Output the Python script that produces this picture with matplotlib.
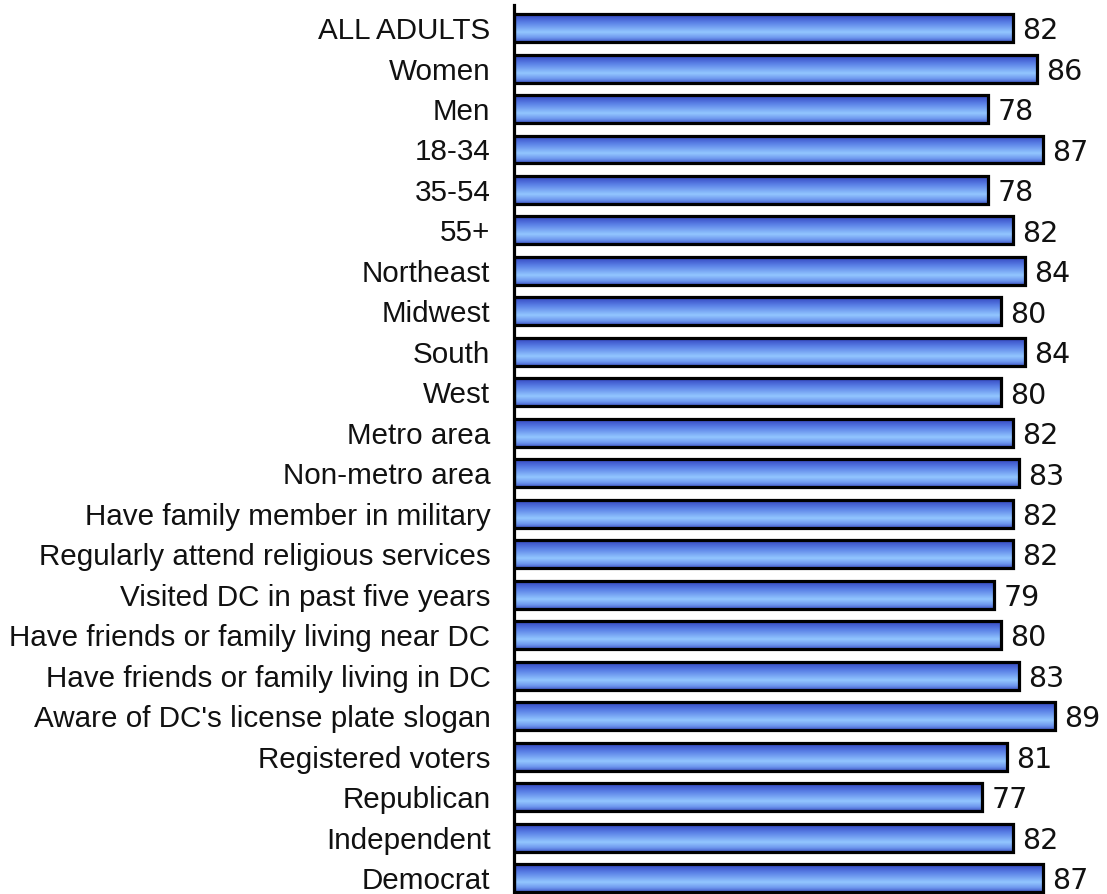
import matplotlib.pyplot as plt
import numpy as np
from matplotlib.colors import LinearSegmentedColormap

categories = ['ALL ADULTS', 'Women', 'Men', '18-34', '35-54', '55+',
              'Northeast', 'Midwest', 'South', 'West', 'Metro area',
              'Non-metro area', 'Have family member in military',
              'Regularly attend religious services',
              'Visited DC in past five years',
              'Have friends or family living near DC',
              'Have friends or family living in DC',
              "Aware of DC's license plate slogan",
              'Registered voters', 'Republican', 'Independent', 'Democrat']
values = [82, 86, 78, 87, 78, 82, 84, 80, 84, 80, 82, 83, 82, 82, 79, 80,
          83, 89, 81, 77, 82, 87]

# vertical gradient for the bars (top -> bottom)
grad = LinearSegmentedColormap.from_list(
    'bar', [(0.0, '#3346c0'), (0.3, '#5a80e6'), (0.65, '#92c6ff'),
            (0.85, '#6f98ee'), (1.0, '#3f58c8')])

fig = plt.figure(figsize=(11.07, 8.94), dpi=100)
ax = fig.add_axes([514 / 1107, 0, 1 - 514 / 1107, 1 - 5 / 894])

pos = np.arange(len(categories))
bars = ax.barh(pos, values, height=0.69, color='none', edgecolor='black',
               linewidth=2.3, zorder=3)

g = np.linspace(0, 1, 64).reshape(-1, 1)
for b in bars:
    x0, y0 = b.get_x(), b.get_y()
    w, h = b.get_width(), b.get_height()
    im = ax.imshow(g, cmap=grad, aspect='auto', extent=[x0, x0 + w, y0 + h, y0],
                   origin='upper', zorder=2)
    im.set_clip_path(b)

ax.set_xlim(0, 97.5)
ax.set_ylim(21.395, -0.57)

for p, v in zip(pos, values):
    ax.text(v + 1.5, p + 0.08, str(v), va='center', ha='left',
            fontsize=20.5, family='DejaVu Sans', color='#111111')

ax.set_yticks(pos)
ax.set_yticklabels(categories, fontsize=21.3, family='Liberation Sans',
                   color='#111111')
ax.tick_params(axis='y', length=0, pad=17)
ax.set_xticks([])
for s in ['top', 'right', 'bottom']:
    ax.spines[s].set_visible(False)
ax.spines['left'].set_linewidth(2.3)

fig.savefig('out.png', dpi=100)
